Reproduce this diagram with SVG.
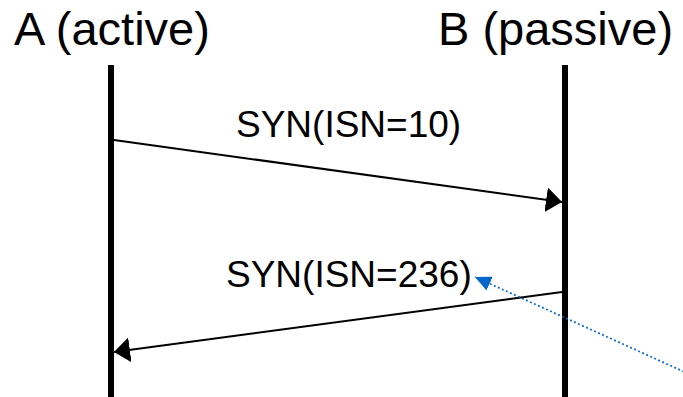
<svg xmlns="http://www.w3.org/2000/svg" width="683" height="397" viewBox="0 0 683 397">
  <style>
    .title { font-family: "Liberation Sans", Arial, sans-serif; font-size: 47px; fill: #000; }
    .label { font-family: "Liberation Sans", Arial, sans-serif; font-size: 37px; fill: #000; }
    .lifeline { stroke: #000; stroke-width: 6; fill: none; }
    .msg { stroke: #000; stroke-width: 2; fill: none; marker-end: url(#arrowBlack); }
    .pointer { stroke: #0066CC; stroke-width: 1.8; stroke-dasharray: 1.8 2.6; fill: none; marker-end: url(#arrowBlue); }
  </style>
  <defs>
    <marker id="arrowBlack" markerUnits="userSpaceOnUse" viewBox="0 0 16 25" refX="16" refY="12.5" markerWidth="16" markerHeight="25" orient="auto">
      <path d="M0,0 L16,12.5 L0,25 Z" fill="#000"/>
    </marker>
    <marker id="arrowBlue" markerUnits="userSpaceOnUse" viewBox="0 0 16 15" refX="16" refY="7.5" markerWidth="16" markerHeight="15" orient="auto">
      <path d="M0,0 L16,7.5 L0,15 Z" fill="#0066CC"/>
    </marker>
  </defs>

  <rect width="683" height="397" fill="#fff"/>

  <g id="nodeA">
    <text class="title" x="14" y="45">A (active)</text>
    <line class="lifeline" x1="111" y1="65" x2="111" y2="397"/>
  </g>

  <g id="nodeB">
    <text class="title" x="438" y="45">B (passive)</text>
    <line class="lifeline" x1="565" y1="65" x2="565" y2="397"/>
  </g>

  <g id="connectors">
    <path class="msg" d="M114,140 L562,202"/>
    <text class="label" x="236" y="137">SYN(ISN=10)</text>
    <path class="msg" d="M562,292 L114,352"/>
    <text class="label" x="226" y="287">SYN(ISN=236)</text>
    <path class="pointer" d="M700,379 L475,277"/>
  </g>
</svg>
